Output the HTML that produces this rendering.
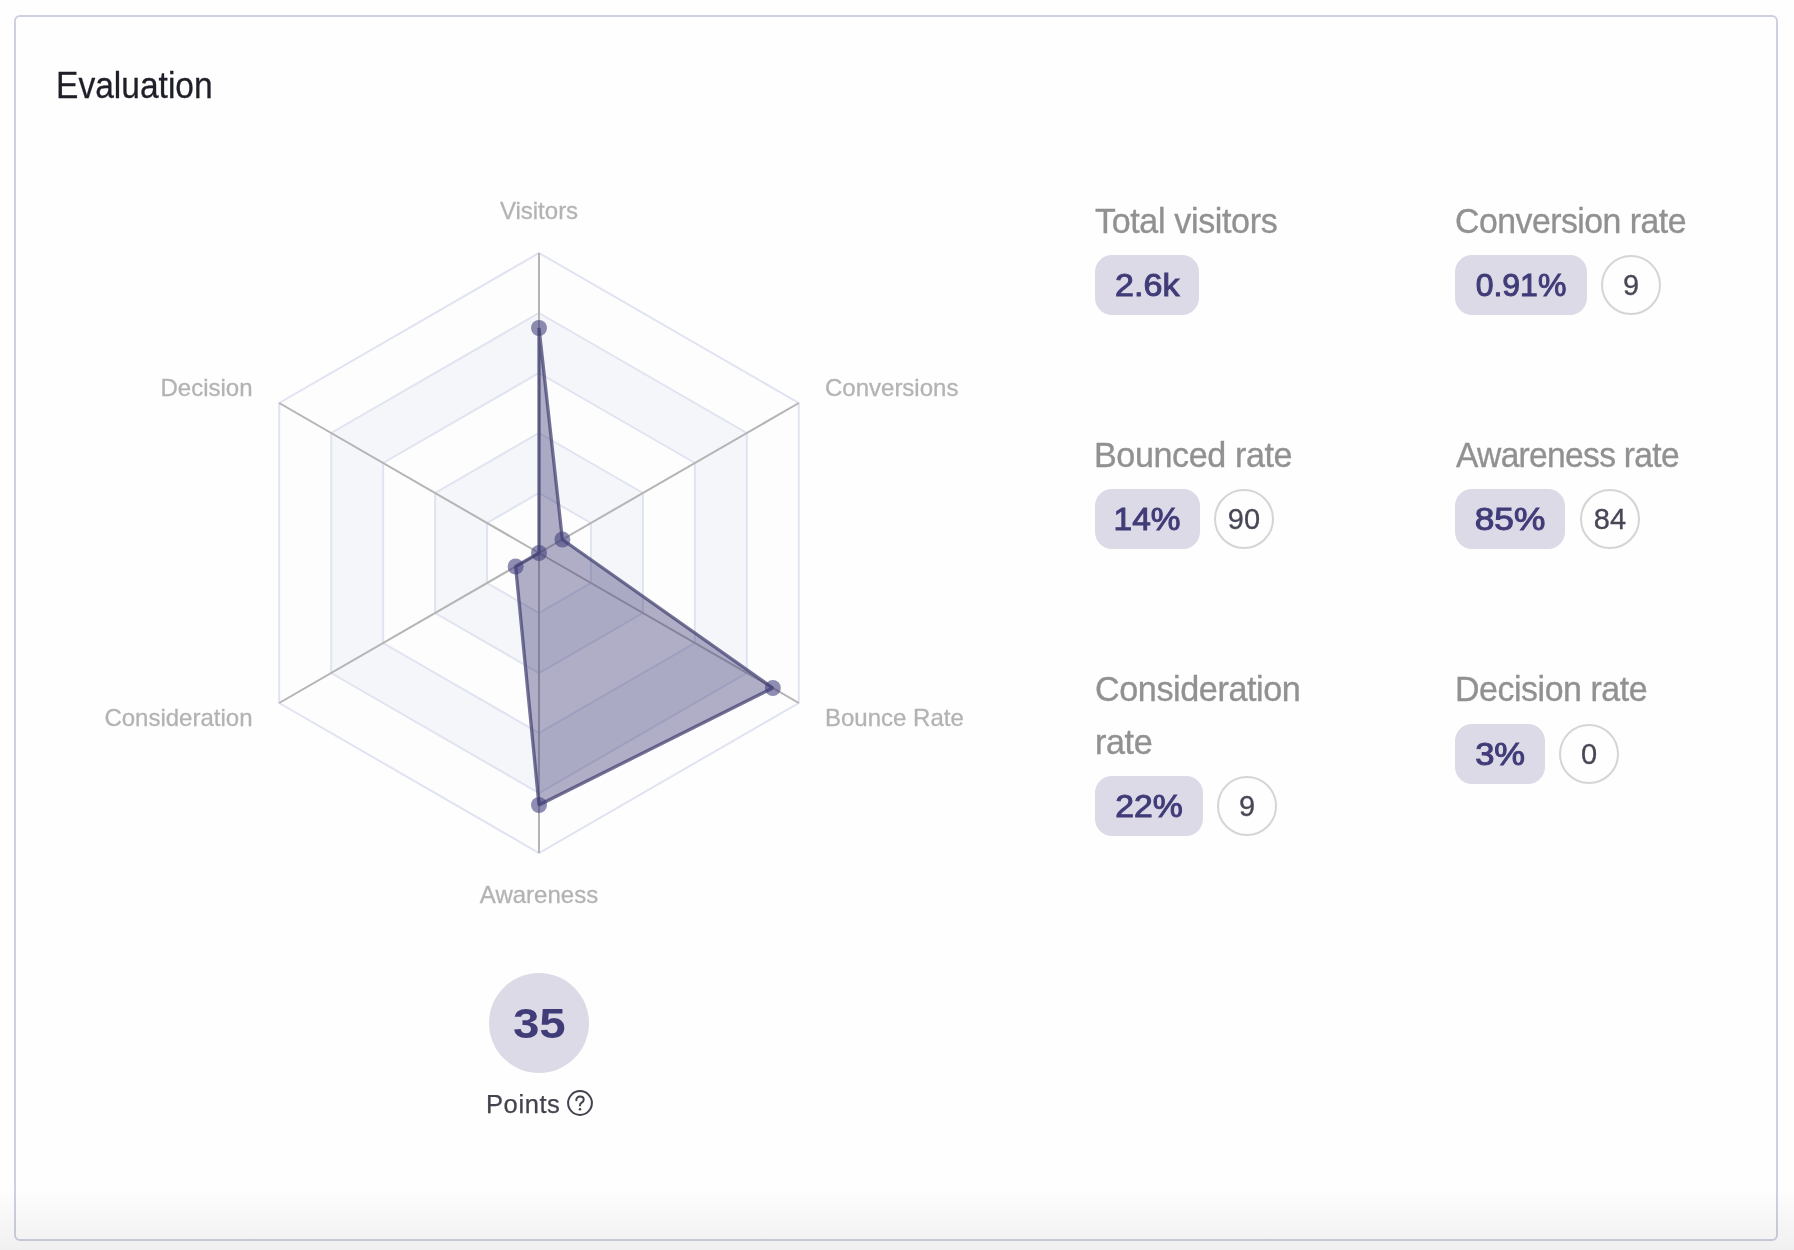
<!DOCTYPE html>
<html>
<head>
<meta charset="utf-8">
<style>
html,body{margin:0;padding:0;}
body{will-change:transform;width:1794px;height:1250px;background:#fefefe;position:relative;overflow:hidden;font-family:"Liberation Sans",sans-serif;}
.card{position:absolute;left:14px;top:15px;width:1760px;height:1222px;border:2px solid #cdd0e0;border-radius:6px;background:#fefefe;}
.title{position:absolute;left:56px;top:62.5px;font-size:36px;-webkit-text-stroke:0.3px #1f1f29;transform:scaleX(0.932);transform-origin:0 0;color:#1f1f29;line-height:46px;white-space:nowrap;}
svg.radar{position:absolute;left:0;top:0;}
.lbl{position:absolute;transform-origin:0 0;font-size:35px;color:#919191;-webkit-text-stroke:0.35px #919191;line-height:53px;width:250px;}
.badge{position:absolute;height:60px;box-sizing:border-box;border-radius:17px;background:#dcdae6;color:#403c78;font-size:32px;-webkit-text-stroke:1px #403c78;line-height:60px;text-align:center;white-space:nowrap;}
.badge span{display:inline-block;}
.circ{position:absolute;width:60px;height:60px;box-sizing:border-box;border:2px solid #d5d5d5;border-radius:50%;text-align:center;line-height:56px;font-size:29px;color:#474756;-webkit-text-stroke:0.3px #474756;}
.pts{position:absolute;left:489px;top:973px;width:100px;height:100px;border-radius:50%;background:#dcdae6;color:#403c78;font-weight:bold;font-size:42px;text-align:center;line-height:102px;}
.pts span{display:inline-block;transform:scaleX(1.13);}
.ptslbl{position:absolute;left:486px;top:1090px;font-size:25.5px;letter-spacing:0.6px;color:#43434f;-webkit-text-stroke:0.25px #43434f;white-space:nowrap;}
.fade{position:absolute;left:0;top:1188px;width:1794px;height:62px;background:linear-gradient(to bottom,rgba(0,0,0,0),rgba(0,0,0,0.055));}
</style>
</head>
<body>
<div class="card"></div>
<div class="title">Evaluation</div>

<svg class="radar" width="1794" height="1250" viewBox="0 0 1794 1250">
<path d="M539.00,493.00 L590.96,523.00 L590.96,583.00 L539.00,613.00 L487.04,583.00 L487.04,523.00 Z " fill="#fdfdfe" fill-rule="evenodd"/>
<path d="M539.00,433.00 L642.92,493.00 L642.92,613.00 L539.00,673.00 L435.08,613.00 L435.08,493.00 Z M539.00,493.00 L590.96,523.00 L590.96,583.00 L539.00,613.00 L487.04,583.00 L487.04,523.00 Z" fill="#f5f6fa" fill-rule="evenodd"/>
<path d="M539.00,373.00 L694.88,463.00 L694.88,643.00 L539.00,733.00 L383.12,643.00 L383.12,463.00 Z M539.00,433.00 L642.92,493.00 L642.92,613.00 L539.00,673.00 L435.08,613.00 L435.08,493.00 Z" fill="#fdfdfe" fill-rule="evenodd"/>
<path d="M539.00,313.00 L746.85,433.00 L746.85,673.00 L539.00,793.00 L331.15,673.00 L331.15,433.00 Z M539.00,373.00 L694.88,463.00 L694.88,643.00 L539.00,733.00 L383.12,643.00 L383.12,463.00 Z" fill="#f5f6fa" fill-rule="evenodd"/>
<path d="M539.00,253.00 L798.81,403.00 L798.81,703.00 L539.00,853.00 L279.19,703.00 L279.19,403.00 Z M539.00,313.00 L746.85,433.00 L746.85,673.00 L539.00,793.00 L331.15,673.00 L331.15,433.00 Z" fill="#fdfdfe" fill-rule="evenodd"/>
<path d="M539.00,493.00 L590.96,523.00 L590.96,583.00 L539.00,613.00 L487.04,583.00 L487.04,523.00 Z" fill="none" stroke="#e0e4f0" stroke-width="2"/>
<path d="M539.00,433.00 L642.92,493.00 L642.92,613.00 L539.00,673.00 L435.08,613.00 L435.08,493.00 Z" fill="none" stroke="#e0e4f0" stroke-width="2"/>
<path d="M539.00,373.00 L694.88,463.00 L694.88,643.00 L539.00,733.00 L383.12,643.00 L383.12,463.00 Z" fill="none" stroke="#e0e4f0" stroke-width="2"/>
<path d="M539.00,313.00 L746.85,433.00 L746.85,673.00 L539.00,793.00 L331.15,673.00 L331.15,433.00 Z" fill="none" stroke="#e0e4f0" stroke-width="2"/>
<path d="M539.00,253.00 L798.81,403.00 L798.81,703.00 L539.00,853.00 L279.19,703.00 L279.19,403.00 Z" fill="none" stroke="#e0e4f0" stroke-width="2"/>
<line x1="539" y1="553" x2="539.00" y2="253.00" stroke="#b4b4b4" stroke-width="2"/>
<line x1="539" y1="553" x2="798.81" y2="403.00" stroke="#b4b4b4" stroke-width="2"/>
<line x1="539" y1="553" x2="798.81" y2="703.00" stroke="#b4b4b4" stroke-width="2"/>
<line x1="539" y1="553" x2="539.00" y2="853.00" stroke="#b4b4b4" stroke-width="2"/>
<line x1="539" y1="553" x2="279.19" y2="703.00" stroke="#b4b4b4" stroke-width="2"/>
<line x1="539" y1="553" x2="279.19" y2="403.00" stroke="#b4b4b4" stroke-width="2"/>
<path d="M539.00,328.00 L562.38,539.50 L772.83,688.00 L539.00,805.00 L515.62,566.50 L539.00,553.00 Z" fill="rgba(64,60,120,0.41)" stroke="none"/>
<path d="M539.00,328.00 L562.38,539.50 L772.83,688.00 L539.00,805.00 L515.62,566.50 L539.00,553.00 Z" fill="none" stroke="rgba(68,66,114,0.74)" stroke-width="3.3" stroke-linejoin="bevel"/>
<circle cx="539.00" cy="328.00" r="8" fill="rgba(64,60,120,0.58)"/>
<circle cx="562.38" cy="539.50" r="8" fill="rgba(64,60,120,0.58)"/>
<circle cx="772.83" cy="688.00" r="8" fill="rgba(64,60,120,0.58)"/>
<circle cx="539.00" cy="805.00" r="8" fill="rgba(64,60,120,0.58)"/>
<circle cx="515.62" cy="566.50" r="8" fill="rgba(64,60,120,0.58)"/>
<circle cx="539.00" cy="553.00" r="8" fill="rgba(64,60,120,0.58)"/>
<text x="539" y="219" text-anchor="middle" font-family="Liberation Sans" font-size="24" fill="#b3b3b3" stroke="#b3b3b3" stroke-width="0.3">Visitors</text>
<text x="825" y="396" text-anchor="start" font-family="Liberation Sans" font-size="24" fill="#b3b3b3" stroke="#b3b3b3" stroke-width="0.3">Conversions</text>
<text x="825" y="726" text-anchor="start" font-family="Liberation Sans" font-size="24" fill="#b3b3b3" stroke="#b3b3b3" stroke-width="0.3">Bounce Rate</text>
<text x="539" y="903" text-anchor="middle" font-family="Liberation Sans" font-size="24" fill="#b3b3b3" stroke="#b3b3b3" stroke-width="0.3">Awareness</text>
<text x="252.5" y="726" text-anchor="end" font-family="Liberation Sans" font-size="24" fill="#b3b3b3" stroke="#b3b3b3" stroke-width="0.3">Consideration</text>
<text x="252.5" y="396" text-anchor="end" font-family="Liberation Sans" font-size="24" fill="#b3b3b3" stroke="#b3b3b3" stroke-width="0.3">Decision</text>
</svg>

<div class="lbl" style="left:1095px;top:193.5px;letter-spacing:-0.38px;transform:scaleX(0.974);">Total visitors</div>
<div class="badge" style="left:1095px;top:255px;width:104px;"><span style="transform:scaleX(1.063)">2.6k</span></div>

<div class="lbl" style="left:1455px;top:193.5px;letter-spacing:-0.53px;transform:scaleX(0.966);">Conversion rate</div>
<div class="badge" style="left:1455px;top:255px;width:132px;"><span style="transform:scaleX(1.0)">0.91%</span></div>
<div class="circ" style="left:1601px;top:255px;">9</div>

<div class="lbl" style="left:1094px;top:427.5px;letter-spacing:-0.41px;transform:scaleX(0.975);">Bounced rate</div>
<div class="badge" style="left:1095px;top:489px;width:105px;"><span style="transform:scaleX(1.044)">14%</span></div>
<div class="circ" style="left:1214px;top:489px;">90</div>

<div class="lbl" style="left:1455.5px;top:427.5px;letter-spacing:-0.72px;transform:scaleX(0.959);">Awareness rate</div>
<div class="badge" style="left:1455px;top:489px;width:110px;"><span style="transform:scaleX(1.103)">85%</span></div>
<div class="circ" style="left:1580px;top:489px;">84</div>

<div class="lbl" style="left:1095px;top:661.5px;letter-spacing:-0.42px;transform:scaleX(0.976);">Consideration rate</div>
<div class="badge" style="left:1095px;top:776px;width:108px;"><span style="transform:scaleX(1.056)">22%</span></div>
<div class="circ" style="left:1217px;top:776px;">9</div>

<div class="lbl" style="left:1455px;top:661.5px;letter-spacing:-0.46px;transform:scaleX(0.969);">Decision rate</div>
<div class="badge" style="left:1455px;top:724px;width:90px;"><span style="transform:scaleX(1.08)">3%</span></div>
<div class="circ" style="left:1559px;top:724px;">0</div>

<div class="pts"><span>35</span></div>
<div class="ptslbl">Points</div>
<svg class="q" width="28" height="28" viewBox="0 0 28 28" style="position:absolute;left:566px;top:1089px;">
<circle cx="14" cy="14" r="11.9" fill="none" stroke="#43434f" stroke-width="2"/>
<path d="M10.3,11.2 C10.3,8.9 12,7.6 14,7.6 C16.1,7.6 17.7,8.9 17.7,10.8 C17.7,12.3 16.8,13 15.7,13.7 C14.6,14.4 14,15 14,16.4" fill="none" stroke="#43434f" stroke-width="2" stroke-linecap="round"/>
<circle cx="14" cy="20.3" r="1.3" fill="#43434f"/>
</svg>

<div class="fade"></div>
</body>
</html>
